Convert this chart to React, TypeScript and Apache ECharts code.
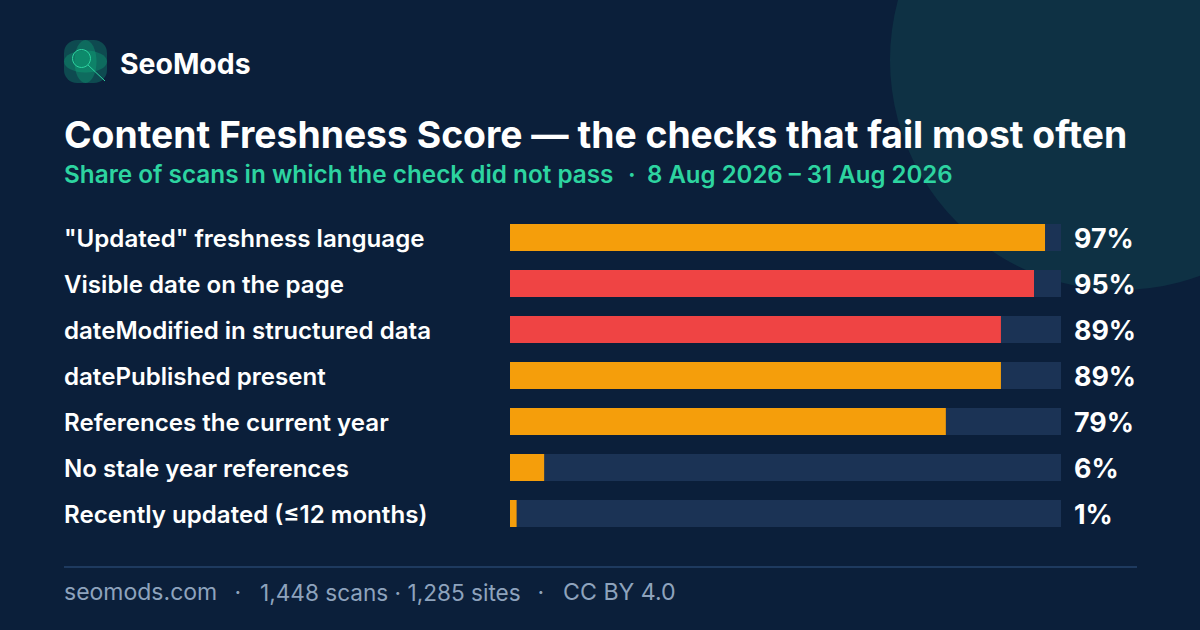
import React, { useEffect, useRef } from "react";
import * as echarts from "echarts";

const checks = ['"Updated" freshness language', "Visible date on the page", "dateModified in structured data", "datePublished present", "References the current year", "No stale year references", "Recently updated (≤12 months)"];
const shares = [97.1, 95.1, 89.1, 89.1, 79.1, 6.2, 1.2];
const shareLabels = ["97%", "95%", "89%", "89%", "79%", "6%", "1%"];
const barColors = ["#f59e0b", "#ef4444", "#ef4444", "#f59e0b", "#f59e0b", "#f59e0b", "#f59e0b"];
const trackValues = [100, 100, 100, 100, 100, 100, 100];
const FONT = "Inter";

export default function App() {
  const ref = useRef<HTMLDivElement>(null);
  useEffect(() => {
    const chart = echarts.init(ref.current!, undefined, { renderer: "svg", width: 1200, height: 630 });
    const txt = (x: number, y: number, text: string, fill: string, font: string) => ({
      type: "text", z: 8, x, y, style: { text, fill, font: `${font} ${FONT}`, textVerticalAlign: "middle" },
    });
    chart.setOption({
      animation: false,
      backgroundColor: "#0b1f3a",
      textStyle: { fontFamily: FONT },
      grid: { left: 510, top: 214.5, width: 551, height: 322 },
      xAxis: { type: "value", min: 0, max: 100, show: false },
      yAxis: {
        type: "category", inverse: true, data: checks,
        axisLine: { show: false }, axisTick: { show: false },
        axisLabel: { align: "left", verticalAlign: "top", lineHeight: 1.5, margin: 446, color: "#ffffff", fontSize: 24.1, fontWeight: 600, fontFamily: FONT },
      },
      series: [
        {
          type: "bar", data: trackValues, barWidth: 27, barGap: "-100%", silent: true,
          itemStyle: { color: "#1b3355" },
          label: {
            show: true, position: "right", distance: 13, color: "#ffffff", fontSize: 26.8, fontWeight: 700, fontFamily: FONT,
            formatter: (p: any) => shareLabels[p.dataIndex],
          },
        },
        {
          type: "bar", barWidth: 27, barGap: "-100%", silent: true,
          data: shares.map((v, i) => ({ value: v, itemStyle: { color: barColors[i] } })),
        },
      ],
      graphic: [
        { type: "circle", z: -10, shape: { cx: 1120, cy: 60, r: 230 }, style: { fill: "#0e3144" } },
        { type: "rect", z: 5, shape: { x: 64, y: 40, width: 43, height: 43, r: 13 }, style: { fill: "#0e4a50" } },
        { type: "ellipse", z: 6, shape: { cx: 85.5, cy: 61.5, rx: 21.5, ry: 11 }, style: { fill: "#10b981", opacity: 0.3 } },
        { type: "ellipse", z: 6, shape: { cx: 85.5, cy: 61.5, rx: 11, ry: 21.5 }, style: { fill: "#10b981", opacity: 0.3 } },
        { type: "circle", z: 7, shape: { cx: 81.5, cy: 58.5, r: 9 }, style: { fill: "#10b981", fillOpacity: 0.15, stroke: "#2dd4a0", lineWidth: 1 } },
        { type: "line", z: 7, shape: { x1: 88, y1: 65, x2: 105, y2: 81 }, style: { stroke: "#2dd4a0", lineWidth: 1 } },
        txt(120, 63, "SeoMods", "#ffffff", "700 28.4px"),
        txt(64, 134, "Content Freshness Score — the checks that fail most often", "#ffffff", "700 37.3px"),
        txt(64, 174, "Share of scans in which the check did not pass", "#2dd4a0", "600 24.3px"),
        txt(628, 174, "·", "#2dd4a0", "600 24px"),
        txt(647, 174, "8 Aug 2026 – 31 Aug 2026", "#2dd4a0", "600 24px"),
        { type: "line", z: 8, shape: { x1: 64, y1: 567, x2: 1137, y2: 567 }, style: { stroke: "#1e3a5f", lineWidth: 2 } },
        txt(64, 592, "seomods.com", "#8ea3bd", "400 23px"),
        txt(234.5, 592, "·", "#8ea3bd", "400 23px"),
        txt(260, 592, "1,448 scans · 1,285 sites", "#8ea3bd", "400 22.6px"),
        txt(537.5, 592, "·", "#8ea3bd", "400 23px"),
        txt(563, 592, "CC BY 4.0", "#8ea3bd", "400 23.2px"),
      ],
    });
    return () => chart.dispose();
  }, []);
  return <div ref={ref} style={{ position: "absolute", left: 0, top: 0, width: 1200, height: 630 }} />;
}
